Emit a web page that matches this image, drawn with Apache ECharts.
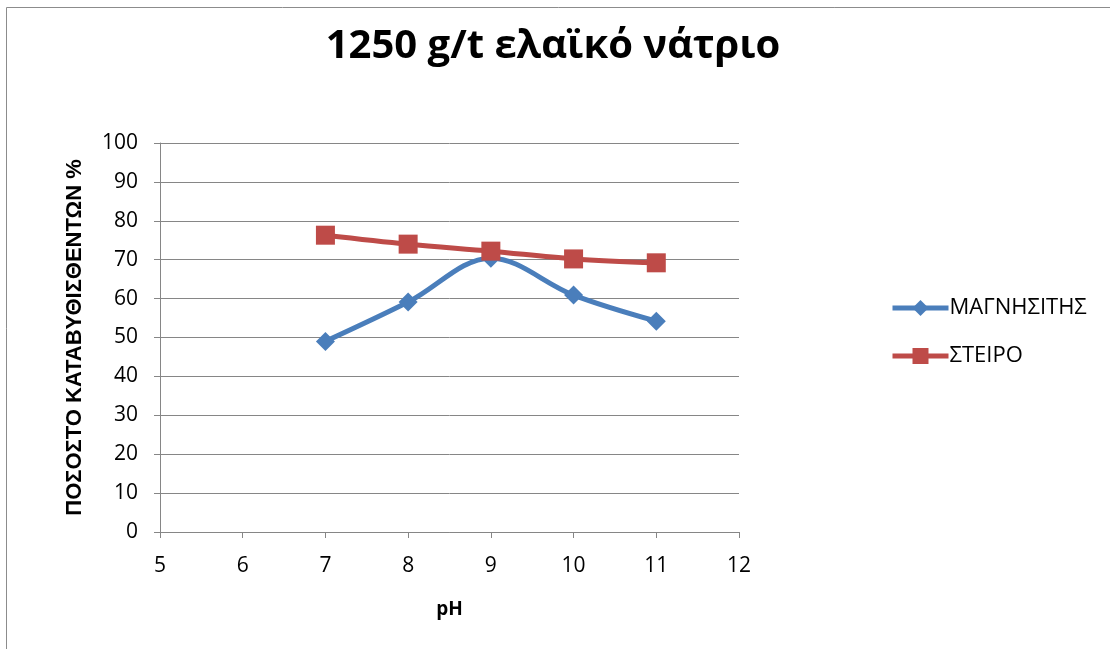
<!DOCTYPE html>
<html><head><meta charset="utf-8">
<script src="https://cdn.jsdelivr.net/npm/echarts@6/dist/echarts.min.js"></script>
<style>html,body{margin:0;padding:0;background:#fff}#c{width:1110px;height:649px}</style>
</head><body><div id="c"></div>
<script>
const titleText = '1250 g/t ελαϊκό νάτριο';
const xName = 'pH';
const yName = 'ΠΟΣΟΣΤΟ ΚΑΤΑΒΥΘΙΣΘΕΝΤΩΝ %';
const phValues = [7, 8, 9, 10, 11];
const magnesite = [49, 59.1, 70.4, 60.9, 54.2];
const steiro = [76.3, 74.0, 72.2, 70.2, 69.2];
const seriesNames = ['ΜΑΓΝΗΣΙΤΗΣ', 'ΣΤΕΙΡΟ'];

const font = 'Open Sans';
const chart = echarts.init(document.getElementById('c'));
chart.setOption({
  animation: false,
  graphic: [{type:'rect', shape:{x:6.5,y:7.5,width:1200,height:700}, style:{fill:'none', stroke:'#8c8c8c', lineWidth:1}}],
  title: {text: titleText, left: 548, top: 22, textAlign: 'center',
    textStyle: {fontFamily: font, fontWeight: 'bold', fontSize: 40, color: '#000'}},
  legend: {orient: 'vertical', left: 885, top: 292, itemGap: 26, itemWidth: 56, itemHeight: 20,
    lineStyle: {width: 5},
    textStyle: {fontFamily: font, fontSize: 22, color: '#000', padding:[0,0,0,-4]},
    data: seriesNames},
  grid: {left: 160, right: 1110-739, top: 143, bottom: 649-532},
  xAxis: {type: 'value', min: 5, max: 12, interval: 1, name: xName, nameLocation: 'middle', nameGap: 68,
    nameTextStyle: {fontFamily: font, fontWeight: 'bold', fontSize: 19, color: '#000'},
    axisLine: {lineStyle: {color: '#868686'}}, axisTick: {show: true, length: 6, lineStyle:{color:'#868686'}},
    axisLabel: {fontFamily: font, fontSize: 21, color: '#000', margin: 24},
    splitLine: {show: false}},
  yAxis: {type: 'value', min: 0, max: 100, interval: 10, name: yName, nameLocation: 'middle', nameGap: 74,
    nameTextStyle: {fontFamily: 'Liberation Sans', fontWeight: 'bold', fontSize: 22, color: '#000'},
    axisLine: {show: true, lineStyle: {color: '#868686'}}, axisTick: {show: true, length: 6, lineStyle:{color:'#868686'}},
    axisLabel: {fontFamily: font, fontSize: 21, color: '#000', margin: 22},
    splitLine: {lineStyle: {color: '#868686', width: 1}}},
  series: [
    {name: seriesNames[0], type: 'line', smooth: 0.35, data: phValues.map((x,i)=>[x, magnesite[i]]),
     symbol: 'diamond', symbolSize: 19, lineStyle: {width: 5, color: '#4a7ebb'},
     itemStyle: {color: '#4a7ebb'}},
    {name: seriesNames[1], type: 'line', smooth: 0.35, data: phValues.map((x,i)=>[x, steiro[i]]),
     symbol: 'rect', symbolSize: 19, lineStyle: {width: 5, color: '#be4b48'},
     itemStyle: {color: '#be4b48'}}
  ]
});
</script></body></html>
